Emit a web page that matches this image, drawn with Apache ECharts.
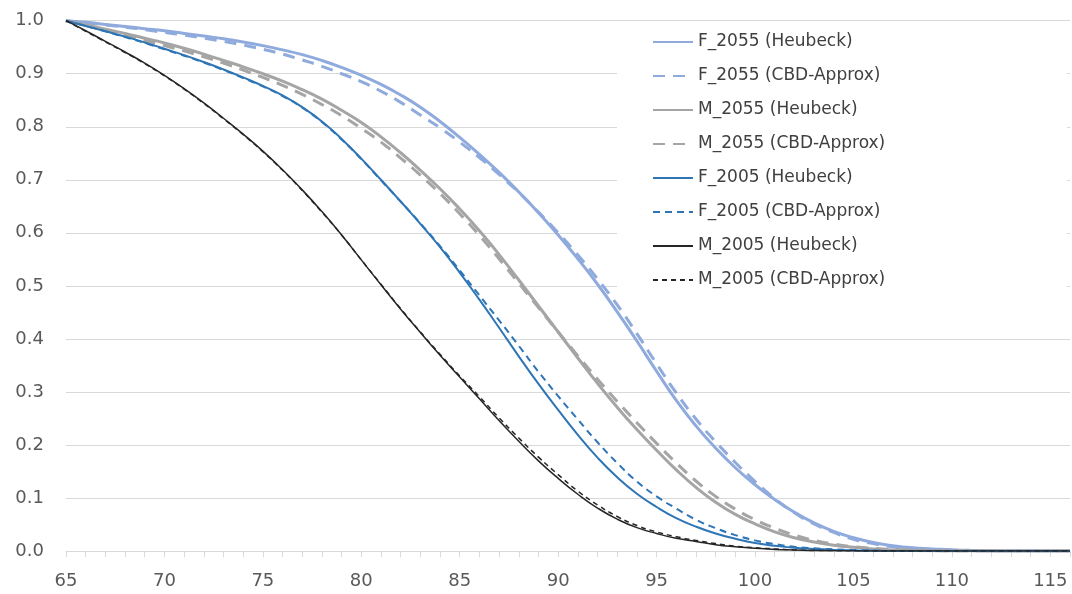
<!DOCTYPE html>
<html>
<head>
<meta charset="utf-8">
<script src="https://cdn.jsdelivr.net/npm/echarts@6/dist/echarts.min.js"></script>
<style>
html,body{margin:0;padding:0;background:#fff;}
#chart{width:1072px;height:594px;}
</style>
</head>
<body>
<div id="chart"></div>
<script>
// Ages 65..116
var ages = [65,66,67,68,69,70,71,72,73,74,75,76,77,78,79,80,81,82,83,84,85,86,87,88,89,90,91,92,93,94,95,96,97,98,99,100,101,102,103,104,105,106,107,108,109,110,111,112,113,114,115,116];

var seriesNames = ['F_2055 (Heubeck)','F_2055 (CBD-Approx)','M_2055 (Heubeck)','M_2055 (CBD-Approx)','F_2005 (Heubeck)','F_2005 (CBD-Approx)','M_2005 (Heubeck)','M_2005 (CBD-Approx)'];

var F2055_H = [1.000,0.997,0.993,0.989,0.985,0.981,0.976,0.971,0.966,0.960,0.953,0.945,0.936,0.925,0.912,0.897,0.880,0.860,0.837,0.810,0.780,0.748,0.714,0.677,0.638,0.596,0.551,0.503,0.451,0.396,0.339,0.284,0.236,0.194,0.157,0.125,0.097,0.073,0.053,0.037,0.025,0.016,0.010,0.006,0.004,0.002,0.001,0.0005,0,0,0,0];
var F2055_C = [1.000,0.996,0.992,0.988,0.983,0.978,0.973,0.967,0.961,0.954,0.946,0.937,0.926,0.914,0.900,0.885,0.867,0.846,0.822,0.798,0.771,0.742,0.710,0.676,0.639,0.600,0.558,0.513,0.464,0.410,0.353,0.298,0.249,0.206,0.167,0.131,0.099,0.072,0.051,0.035,0.022,0.014,0.008,0.005,0.003,0.002,0.001,0,0,0,0,0];
var M2055_H = [1.000,0.992,0.984,0.976,0.967,0.958,0.948,0.937,0.925,0.913,0.900,0.886,0.870,0.852,0.831,0.808,0.781,0.751,0.718,0.683,0.645,0.604,0.559,0.511,0.462,0.413,0.364,0.316,0.271,0.229,0.190,0.153,0.120,0.092,0.069,0.051,0.036,0.025,0.017,0.011,0.007,0.004,0.002,0.001,0.0005,0,0,0,0,0,0,0];
var M2055_C = [1.000,0.991,0.982,0.973,0.963,0.953,0.943,0.932,0.920,0.907,0.893,0.878,0.861,0.842,0.821,0.797,0.771,0.741,0.709,0.674,0.636,0.595,0.551,0.505,0.459,0.413,0.368,0.324,0.282,0.242,0.203,0.166,0.132,0.103,0.079,0.059,0.043,0.030,0.020,0.013,0.008,0.005,0.003,0.002,0.001,0,0,0,0,0,0,0];
var F2005_H = [1.000,0.990,0.980,0.970,0.959,0.947,0.935,0.922,0.908,0.893,0.877,0.859,0.837,0.810,0.777,0.740,0.700,0.659,0.617,0.573,0.525,0.474,0.421,0.367,0.315,0.266,0.219,0.176,0.139,0.108,0.083,0.062,0.046,0.033,0.023,0.015,0.010,0.006,0.004,0.002,0.001,0.0005,0,0,0,0,0,0,0,0,0,0];
var F2005_C = [1.000,0.990,0.980,0.969,0.958,0.946,0.934,0.921,0.907,0.892,0.876,0.858,0.836,0.809,0.776,0.739,0.699,0.659,0.618,0.575,0.529,0.482,0.435,0.387,0.338,0.292,0.248,0.205,0.166,0.131,0.103,0.080,0.059,0.043,0.030,0.020,0.013,0.008,0.005,0.003,0.002,0.001,0,0,0,0,0,0,0,0,0,0];
var M2005_H = [1.000,0.981,0.961,0.941,0.920,0.897,0.872,0.845,0.816,0.786,0.754,0.719,0.681,0.640,0.596,0.549,0.502,0.456,0.412,0.369,0.328,0.287,0.246,0.207,0.170,0.137,0.107,0.081,0.060,0.044,0.033,0.024,0.018,0.012,0.008,0.005,0.003,0.002,0.001,0.0006,0.0003,0,0,0,0,0,0,0,0,0,0,0];
var M2005_C = [1.000,0.980,0.960,0.940,0.919,0.896,0.871,0.844,0.815,0.785,0.753,0.718,0.680,0.639,0.596,0.549,0.503,0.457,0.413,0.371,0.330,0.291,0.251,0.213,0.177,0.144,0.113,0.087,0.065,0.048,0.036,0.027,0.020,0.014,0.009,0.006,0.004,0.002,0.001,0.0007,0.0004,0,0,0,0,0,0,0,0,0,0,0];

var seriesValues = [F2055_H,F2055_C,M2055_H,M2055_C,F2005_H,F2005_C,M2005_H,M2005_C];
var seriesColors = ['#8FAADC','#8FAADC','#A5A5A5','#A5A5A5','#2E75B6','#2E75B6','#262626','#262626'];
var seriesWidths = [3,3,3,3,2,2,1.5,1.5];
var seriesDash = ['solid',[12,8],'solid',[12,8],'solid',[7,5],'solid',[5,4]];

var xTicks = {min:65, max:116, interval:5};
var yTicks = {min:0, max:1, interval:0.1};

function pairs(vals){ return ages.map(function(a,i){ return [a, vals[i]]; }); }

var series = seriesNames.map(function(n,i){
  return {
    name: n, type: 'line', data: pairs(seriesValues[i]),
    symbol: 'none', showSymbol: false, smooth: 0.5,
    lineStyle: {color: seriesColors[i], width: seriesWidths[i], type: seriesDash[i], cap: 'butt'},
    itemStyle: {color: seriesColors[i]},
    emphasis: {disabled: true}, animation: false
  };
});

var chart = echarts.init(document.getElementById('chart'), null, {renderer:'canvas'});
chart.setOption({
  animation: false,
  backgroundColor: '#ffffff',
  grid: {left: 66, right: 2, top: 20.7, bottom: 43, containLabel: false},
  xAxis: {
    type: 'value', min: xTicks.min, max: xTicks.max, interval: xTicks.interval,
    axisLine: {show: true, lineStyle: {color: '#d9d9d9', width: 1}},
    axisTick: {show: true, length: 6, lineStyle: {color: '#d9d9d9'}},
    minorTick: {show: true, splitNumber: 5, length: 6, lineStyle: {color: '#d9d9d9'}},
    splitLine: {show: false},
    axisLabel: {color: '#595959', fontSize: 18, fontFamily: 'DejaVu Sans', margin: 21, showMaxLabel: false}
  },
  yAxis: {
    type: 'value', min: yTicks.min, max: yTicks.max, interval: yTicks.interval,
    axisLine: {show: false}, axisTick: {show: false},
    splitLine: {show: true, lineStyle: {color: '#d9d9d9', width: 1}},
    axisLabel: {color: '#595959', fontSize: 18, fontFamily: 'DejaVu Sans', margin: 22,
      formatter: function(v){ return v.toFixed(1); }}
  },
  legend: {
    orient: 'vertical', left: 617, top: 24,
    padding: [8, 182, 12, 35],
    backgroundColor: '#ffffff',
    itemWidth: 40, itemHeight: 14, itemGap: 14,
    selectedMode: false,
    itemStyle: {color: 'rgba(0,0,0,0)', borderWidth: 0, opacity: 0},
    data: seriesNames,
    textStyle: {color: '#404040', fontSize: 17, fontFamily: 'DejaVu Sans', lineHeight: 20}
  },
  series: series
});
</script>
</body>
</html>
